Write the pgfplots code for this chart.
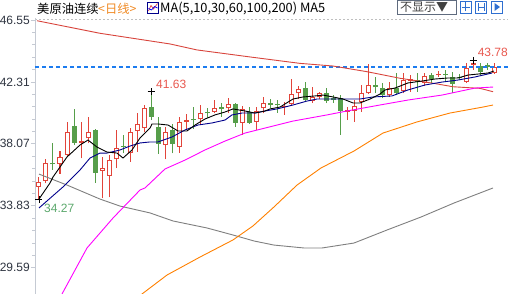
\documentclass[border=0pt]{standalone}
\usepackage{pgfplots}
\pgfplotsset{compat=1.18}
\usepackage{pgfplotstable}
\usepackage{fontspec}
\setmainfont{Liberation Sans}
\newfontfamily\cjk{Noto Sans CJK SC}

\definecolor{cred}{HTML}{E2443A}
\definecolor{cgreen}{HTML}{569E4A}
\definecolor{ma10}{HTML}{00008B}
\definecolor{ma30}{HTML}{D8443C}
\definecolor{ma60}{HTML}{FF00FF}
\definecolor{ma100}{HTML}{FF8000}
\definecolor{ma200}{HTML}{7F7F7F}
\definecolor{pline}{HTML}{1C7CF0}
\definecolor{lblred}{HTML}{E8574E}
\definecolor{lblgreen}{HTML}{5BA86C}
\definecolor{orangetxt}{HTML}{F08A24}
\definecolor{axisgray}{HTML}{C5CAD3}
\definecolor{ticktxt}{HTML}{2E3440}
\definecolor{iconblue}{HTML}{2F6FD0}
\definecolor{boxgray}{HTML}{5F6B7E}

% red (rising) candles: day, open, high, low, close
\pgfplotstableread{
i o h l c
1 35.14 35.82 34.27 35.44
2 35.55 37.01 35.37 36.74
4 36.69 37.60 36.01 37.19
5 37.31 39.59 37.15 38.86
7 38.15 39.59 37.08 38.25
8 38.45 39.89 38.11 38.90
10 36.23 37.19 34.34 36.40
11 35.89 37.31 34.41 36.96
12 37.01 39.02 36.40 37.81
14 37.46 39.13 36.85 38.90
15 38.97 40.16 37.53 39.43
16 39.13 40.73 38.90 40.50
19 37.99 39.24 37.01 38.90
21 37.88 39.93 37.46 39.55
22 39.59 40.11 39.02 39.70
24 39.75 40.73 39.36 40.16
26 40.27 41.07 40.16 40.50
28 40.50 41.19 40.16 40.78
30 39.52 40.66 38.68 40.44
32 39.59 40.61 39.02 40.34
33 40.50 41.26 40.16 40.89
36 40.61 40.96 40.05 40.68
37 40.80 42.49 40.73 41.48
38 41.53 42.03 41.12 41.81
40 41.03 41.98 40.85 41.30
41 41.26 41.64 41.12 41.53
45 40.27 40.61 39.70 40.39
46 40.34 41.07 39.59 40.66
47 40.96 42.10 40.27 41.53
48 41.53 43.54 41.48 42.10
51 41.41 42.33 41.30 41.87
53 41.69 42.90 41.53 42.44
54 42.39 42.78 41.64 42.49
56 42.26 42.94 42.03 42.72
58 42.76 43.08 42.67 42.85
62 42.33 43.58 42.22 43.24
63 43.47 43.78 43.13 43.58
66 42.90 43.63 42.85 43.33
}\redc

% green (falling) candles
\pgfplotstableread{
i o h l c
3 36.74 38.11 36.28 36.67
6 39.29 40.44 37.99 38.15
9 39.02 39.07 35.41 36.09
13 37.93 38.68 37.42 37.86
17 40.57 41.63 39.70 39.93
18 39.24 39.93 37.38 38.06
20 39.02 39.43 37.42 38.06
23 39.77 40.61 39.07 39.68
25 40.23 40.50 39.82 40.16
27 40.57 40.89 39.93 40.43
29 40.80 40.85 39.24 39.52
31 40.27 40.61 39.43 39.52
34 40.85 41.12 40.50 40.73
35 40.80 41.07 40.20 40.71
39 41.87 42.33 40.96 41.07
42 41.53 41.87 40.85 41.03
43 41.19 41.41 40.87 41.07
44 41.19 41.41 38.68 40.34
49 42.10 42.67 41.53 41.94
50 41.87 42.22 41.19 41.41
52 41.87 42.90 41.41 41.57
55 42.44 42.90 41.64 42.33
57 42.76 42.94 42.22 42.49
59 42.83 43.13 42.39 42.76
60 42.67 43.01 41.53 42.17
61 42.63 42.85 42.44 42.56
64 43.42 43.58 42.78 43.01
65 43.47 43.58 43.13 43.35
}\greenc

\pgfplotsset{candle/.style={draw=none, mark=none, forget plot,
  error bars/.cd, y dir=plus, y explicit, error mark=none}}

\begin{document}
\begin{tikzpicture}[x=1pt,y=1pt]
\useasboundingbox (0,0) rectangle (508,294);
% header
\node[anchor=west, inner sep=0pt, font=\cjk\fontsize{12.3}{12}\selectfont] at (37,285.5) {美原油连续};
\node[anchor=west, inner sep=0pt, font=\cjk\fontsize{12.3}{12}\selectfont, text=orangetxt] at (98,285.5) {<日线>};
\draw[draw=ma10, line width=0.7pt, fill=white] (147.5,280.5) rectangle (158.5,291.5);
\draw[cred, line width=0.7pt] (148.5,283) -- (151,288.5) -- (153.5,285) -- (157.5,290.5);
\draw[blue, line width=0.7pt] (148.5,285.5) -- (151.5,284) -- (154.5,287.5) -- (157.5,286);
\node[anchor=west, inner sep=0pt, font=\cjk\fontsize{12.8}{12}\selectfont] at (160,285.5) {MA(5,10,30,60,100,200) MA5};
\draw[draw=boxgray, line width=0.8pt] (397,293.5) rectangle (456,280);
\node[anchor=west, inner sep=0pt, font=\cjk\fontsize{12}{12}\selectfont, text=black!75] at (400,286.5) {不显示▼};
\foreach \xx in {460,475.5,491}{\draw[iconblue, line width=0.7pt] (\xx,281) rectangle ++(11,12);}
\draw[iconblue, line width=0.8pt] (465.5,282.5) -- (465.5,291.5) (461.5,287) -- (469.5,287);
\draw[iconblue, line width=0.8pt] (478,283) -- (478,291) (484,283) -- (484,291) (478,287) -- (484,287);
\fill[iconblue] (494.5,283) -- (494.5,291) -- (500,287) -- cycle;
\draw[black!25, line width=0.6pt, dash pattern=on 2pt off 2pt] (35,275) -- (508,275);

\begin{axis}[at={(35pt,0pt)}, anchor=south west, scale only axis,
  width=473pt, height=276pt,
  xmin=0.4286, xmax=68, ymin=27.79, ymax=46.687,
  axis x line=none, axis y line*=left, xtick=\empty,
  y axis line style={draw=axisgray, line width=0.8pt},
  ytick={29.59,33.83,38.07,42.31,46.55},
  yticklabels={29.59,33.83,38.07,42.31,46.55},
  minor y tick num=4, tick align=outside,
  major tick length=4pt, minor tick length=2.5pt,
  tick style={draw=axisgray, line width=0.8pt},
  yticklabel style={font=\fontsize{12}{12}\selectfont, text=ticktxt, inner sep=0pt, xshift=-1pt},
  clip=true]

% wicks
\addplot [candle, error bar style={draw=cred, line width=1pt}]
  table [x=i, y=l, y error plus expr=\thisrow{h}-\thisrow{l}] {\redc};
\addplot [candle, error bar style={draw=cgreen, line width=1pt}]
  table [x=i, y=l, y error plus expr=\thisrow{h}-\thisrow{l}] {\greenc};
% bodies
\addplot [candle, error bar style={draw=cgreen, line width=5pt}]
  table [x=i, y=c, y error plus expr=\thisrow{o}-\thisrow{c}] {\greenc};
\addplot [candle, error bar style={draw=cred, line width=5pt}]
  table [x=i, y=o, y error plus expr=\thisrow{c}-\thisrow{o}] {\redc};
\addplot [candle, error bar style={draw=white, line width=3pt}]
  table [x=i, y expr=\thisrow{o}+0.0685, y error plus expr={max(\thisrow{c}-\thisrow{o}-0.137,0)}] {\redc};

% price line
\addplot [draw=pline, line width=1.1pt, dash pattern=on 4pt off 3pt] coordinates {(0.4286,43.33) (68,43.33)};

% MA30 (red)
\addplot [ma30, line width=0.9pt] coordinates {
(0.714,46.50) (9.71,45.64) (19.71,44.91) (23.57,44.50) (31.14,44.02) (38.29,43.58)
(43.0,43.40) (47.86,43.01) (52.57,42.56) (57.29,42.22) (60.14,41.98) (64.0,41.87) (65.86,41.64)};
% MA200 (gray)
\addplot [ma200, line width=0.9pt] coordinates {
(1,36.00) (5,35.25) (9.71,34.29) (12.57,33.81) (16.86,33.34) (20.14,32.79) (25,32.31)
(28.71,31.83) (31.71,31.42) (34.57,31.14) (38.86,30.94) (41.43,30.94) (46,31.28)
(50.71,32.17) (55.57,33.06) (60.29,34.02) (65.86,35.05)};
% MA100 (orange)
\addplot [ma100, line width=0.9pt] coordinates {
(15.29,27.16) (15.71,27.79) (19.29,29.09) (24,30.32) (28.71,31.49) (31.57,32.45)
(34.57,33.75) (37.86,35.25) (41.29,36.42) (46,37.58) (50.14,38.81) (55,39.57)
(59.71,40.18) (64.43,40.59) (65.86,40.73)};
% MA60 (magenta)
\addplot [ma60, line width=0.9pt] coordinates {
(3.857,27.24) (4.286,27.79) (7.857,30.94) (11.57,32.99) (15.43,34.91) (16.14,35.05)
(19,36.35) (21.86,36.96) (24.71,37.65) (27.57,38.26) (30.43,38.81) (33.29,39.15)
(37.29,39.63) (42.14,40.05) (45,40.32) (49.71,40.73) (53.71,41.07) (58.57,41.41)
(63.29,41.89) (65.86,41.96)};
% MA10 (navy)
\addplot [ma10, line width=0.9pt] coordinates {
(1,33.68) (4.43,35.12) (6.857,36.28) (8.29,37.10) (9.71,37.44) (10.71,37.44) (12.57,37.65)
(14,37.92) (15.43,38.13) (16.86,38.20) (18,38.20) (20,38.54) (21.86,39.02) (23.71,39.36)
(25.71,39.50) (27.57,39.70) (28.57,40.05) (30,40.18) (31.86,40.18) (33.29,40.32)
(35,40.46) (37.29,40.73) (39.29,41.00) (40.71,41.14) (43,41.14) (45,41.14) (46.86,41.14)
(48.71,41.28) (51.43,41.35) (53.71,41.76) (56.14,42.10) (58.57,42.30) (60.86,42.44)
(63.29,42.65) (65.71,42.92)};
% MA5 (black)
\addplot [black, line width=0.9pt] coordinates {
(1,34.29) (2.571,35.39) (3,35.80) (5,37.17) (6.857,37.99) (8,38.33) (9.286,37.85)
(10.714,37.51) (12.14,37.44) (13,37.10) (14.29,37.65) (15.43,38.47) (16.86,39.15)
(17.14,39.43) (18,39.43) (19.43,39.36) (20.86,38.95) (22.14,38.95) (23.29,39.36)
(24.71,39.77) (26.14,40.05) (27.57,40.25) (28.71,40.46) (30.43,40.32) (31.86,40.18)
(33.29,40.32) (34,40.46) (35.43,40.59) (37.29,41.14) (38.71,41.28) (40.43,41.35)
(41.57,41.41) (43,41.28) (44.43,41.14) (45.86,40.87) (46.86,40.87) (48.29,41.14)
(49.71,41.48) (50.43,41.76) (51.86,41.89) (53.71,42.24) (55.71,42.37) (57.57,42.51)
(59.43,42.58) (60.86,42.58) (62.29,42.78) (63.71,42.85) (65.14,42.92) (66,43.06)};

% extreme markers
\addplot [only marks, mark=+, mark size=3.5pt, black, line width=0.8pt] coordinates {(1,34.27) (17,41.63) (63,43.78)};
\node[anchor=west, inner sep=0pt, text=lblred, font=\fontsize{12}{12}\selectfont] at (axis cs:17.71,42.17) {41.63};
\node[anchor=east, inner sep=0pt, text=lblred, font=\fontsize{12}{12}\selectfont] at (axis cs:68,44.36) {43.78};
\node[anchor=west, inner sep=0pt, text=lblgreen, font=\fontsize{12}{12}\selectfont] at (axis cs:1.71,33.68) {34.27};
\end{axis}
\end{tikzpicture}
\end{document}
